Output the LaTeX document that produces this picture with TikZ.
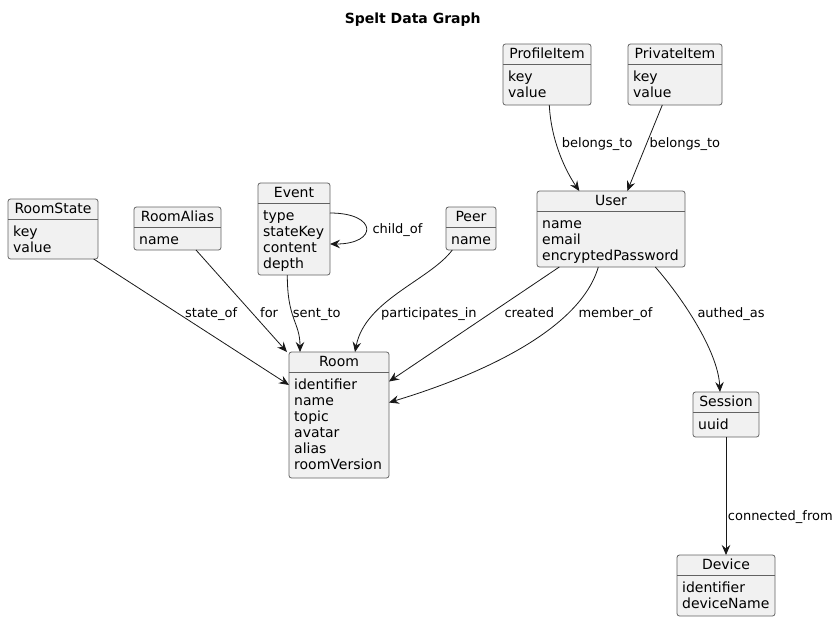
\documentclass[tikz,border=0pt]{standalone}
\usepackage{fontspec}
\setmainfont{DejaVu Sans}
\usetikzlibrary{arrows.meta}
\definecolor{objfill}{HTML}{F1F1F1}
\definecolor{ink}{HTML}{181818}
\definecolor{border}{HTML}{626262}
\tikzset{
  obj/.style={rectangle, draw=border, line width=0.8pt, fill=objfill, rounded corners=2.5pt, inner sep=0pt, outer sep=0pt},
  objline/.style={draw=border, line width=0.8pt},
  hdr/.style={anchor=base, inner sep=0pt, font=\fontsize{14}{16}\selectfont},
  attr/.style={anchor=base west, inner sep=0pt, font=\fontsize{14}{16}\selectfont},
  lbl/.style={anchor=base west, inner sep=0pt, font=\fontsize{13}{15}\selectfont},
  ttl/.style={anchor=base, inner sep=0pt, font=\fontsize{14}{16}\selectfont\bfseries},
  conn/.style={draw=ink, line width=0.8pt, -{Stealth[length=10pt,width=8.5pt,inset=3.5pt]}},
}
\newcommand\umlobj[7]{%
  \node[obj, minimum width={#4-#2}, minimum height={#5-#3}] (#1) at ({(#2+#4)/2},{(#3+#5)/2}) {};
  \draw[objline] ([yshift=-20pt]#1.north west) -- ([yshift=-20pt]#1.north east);
  \node[hdr] (#1-h) at ([yshift=-14.3pt]#1.north) {#6};
  \foreach \t [count=\i from 0] in {#7} {
    \pgfmathsetmacro\dy{37.8+16*\i}
    \node[attr] (#1-l\i) at ([xshift=5pt,yshift=-\dy pt]#1.north west) {\t};
  }
}
\begin{document}
\begin{tikzpicture}[x=1pt,y=-1pt]
\useasboundingbox (0,0) rectangle (839,622);

\node[ttl] (title) at (412.7,23) {Spelt Data Graph};

\umlobj{rs}{8}{199}{98}{259}{RoomState}{key,value}
\umlobj{ra}{134}{207}{221}{250}{RoomAlias}{name}
\umlobj{ev}{258}{183}{330}{275}{Event}{type,stateKey,content,depth}
\umlobj{peer}{446}{207}{496}{250}{Peer}{name}
\umlobj{user}{537}{191}{685}{267}{User}{name,email,encryptedPassword}
\umlobj{prof}{503}{44}{591}{105}{ProfileItem}{key,value}
\umlobj{priv}{628}{44}{722}{105}{PrivateItem}{key,value}
\umlobj{room}{289}{352}{389}{478}{Room}{identifier,name,topic,avatar,alias,roomVersion}
\umlobj{sess}{693}{392}{759}{437}{Session}{uuid}
\umlobj{dev}{677}{555}{775}{616}{Device}{identifier,deviceName}

\draw[conn] ([xshift=40.7pt]rs.south) -- ([yshift=30pt]room.west);
\draw[conn] ([xshift=18.5pt]ra.south) -- ([xshift=-2pt]room.north west);
\draw[conn] ([xshift=-6.7pt]ev.south) .. controls +(0,45) and +(0,-30) .. ([xshift=-39pt]room.north);
\draw[conn] ([yshift=16pt]ev.east) .. controls +(48,0) and +(48,0) .. ([yshift=-15pt]ev.east);
\draw[conn] ([xshift=-18.7pt]peer.south) .. controls (430,280) and (365,300) .. ([xshift=16pt]room.north);
\draw[conn] ([xshift=-51.7pt]user.south) -- ([yshift=33.5pt]room.east);
\draw[conn] ([xshift=-12.7pt]user.south) .. controls (580,330) and (480,375) .. ([yshift=12.5pt]room.east);
\draw[conn] ([xshift=44.3pt]user.south) .. controls (680,295) and (718,350) .. ([xshift=-6pt]sess.north);
\draw[conn] (sess.south) -- (dev.north);
\draw[conn] ([xshift=2.3pt]prof.south) .. controls (551,140) and (565,170) .. ([xshift=-31.7pt]user.north);
\draw[conn] ([xshift=-12.7pt]priv.south) -- ([xshift=16.3pt]user.north);

\node[lbl] (t-state) at (185,317) {state\_of};
\node[lbl] (t-for) at (260,317) {for};
\node[lbl] (t-sent) at (292.7,317) {sent\_to};
\node[lbl] (t-part) at (381,317) {participates\_in};
\node[lbl] (t-created) at (504.3,317) {created};
\node[lbl] (t-member) at (578.3,317) {member\_of};
\node[lbl] (t-authed) at (697.3,317) {authed\_as};
\node[lbl] (t-child) at (372.3,233.3) {child\_of};
\node[lbl] (t-bel1) at (561.7,147.7) {belongs\_to};
\node[lbl] (t-bel2) at (649.3,147.7) {belongs\_to};
\node[lbl] (t-conn) at (727.7,520.3) {connected\_from};
\end{tikzpicture}
\end{document}
